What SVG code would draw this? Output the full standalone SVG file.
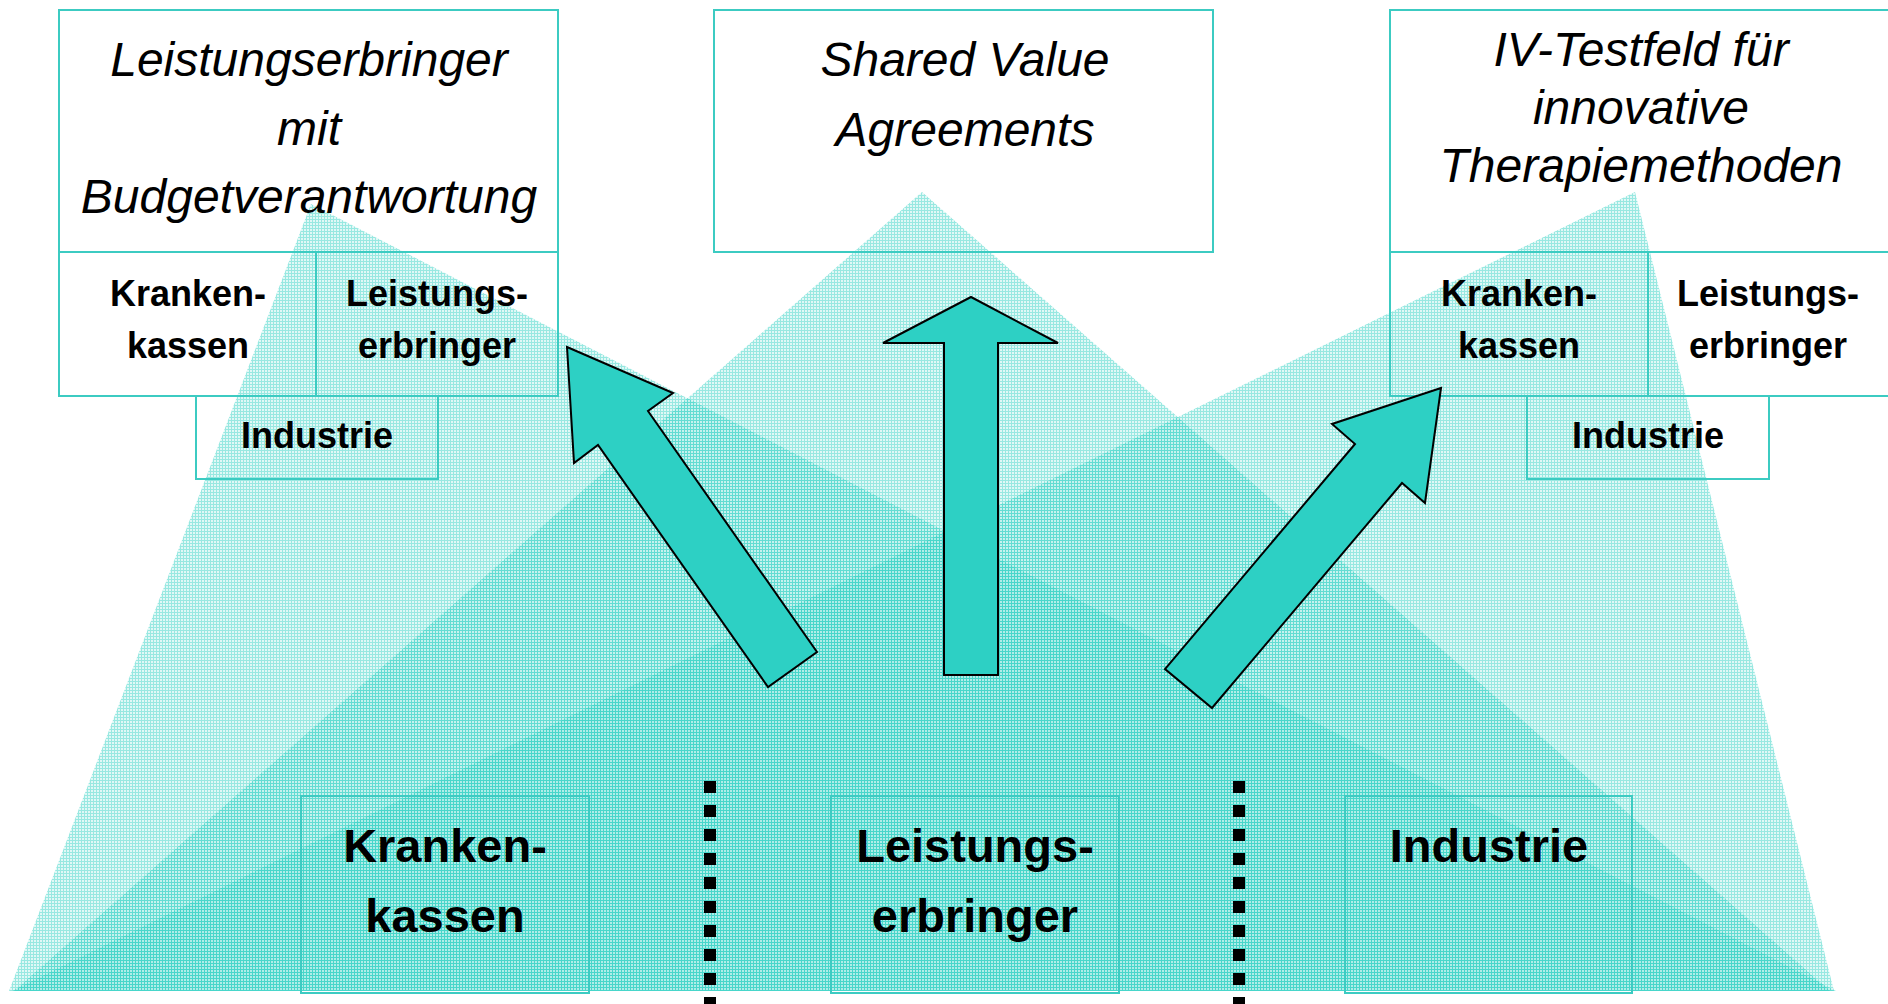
<svg xmlns="http://www.w3.org/2000/svg" width="1888" height="1004" viewBox="0 0 1888 1004">
  <defs>
    <!-- fine teal grid used as the translucent fill of the three pyramids -->
    <pattern id="grid" patternUnits="userSpaceOnUse" width="3" height="3">
      <rect x="0" y="0" width="3" height="3" fill="#2ccfc4" fill-opacity="0.15"/>
      <rect x="0" y="0" width="3" height="1" fill="#2ccfc4" fill-opacity="0.4"/>
      <rect x="0" y="1" width="1" height="2" fill="#2ccfc4" fill-opacity="0.4"/>
    </pattern>
    <style>
      .box { fill: none; stroke: #3ccbc2; stroke-width: 2; }
      .pyr { fill: url(#grid); stroke: none; }
      .arrow { fill: #2dd0c4; stroke: #000; stroke-width: 2; stroke-linejoin: miter; }
      .title { font-family: "Liberation Sans", Arial, sans-serif; font-style: italic; font-size: 48px; fill: #000; text-anchor: middle; }
      .small { font-family: "Liberation Sans", Arial, sans-serif; font-weight: bold; font-size: 36px; fill: #000; text-anchor: middle; }
      .big { font-family: "Liberation Sans", Arial, sans-serif; font-weight: bold; font-size: 47px; fill: #000; text-anchor: middle; }
      .sep { stroke: #000; stroke-width: 12; stroke-dasharray: 12 12; fill: none; }
    </style>
  </defs>

  <rect width="1888" height="1004" fill="#ffffff"/>

  <!-- overlapping pyramids -->
  <g id="pyramids">
    <polygon class="pyr" points="311,204 9,991 1836,991"/>
    <polygon class="pyr" points="922,192 14,991 1830,991"/>
    <polygon class="pyr" points="1635,192 12,991 1834,991"/>
  </g>

  <!-- separators between the three base groups -->
  <g id="separators">
    <line class="sep" x1="710" y1="781" x2="710" y2="1004"/>
    <line class="sep" x1="1239" y1="781" x2="1239" y2="1004"/>
  </g>

  <!-- base: Krankenkassen -->
  <g id="base-krankenkassen">
    <rect class="box" x="301" y="796" width="288" height="197"/>
    <text class="big" x="445" y="862">Kranken-</text>
    <text class="big" x="445" y="932">kassen</text>
  </g>

  <!-- base: Leistungserbringer -->
  <g id="base-leistungserbringer">
    <rect class="box" x="831" y="796" width="288" height="197"/>
    <text class="big" x="975" y="862">Leistungs-</text>
    <text class="big" x="975" y="932">erbringer</text>
  </g>

  <!-- base: Industrie -->
  <g id="base-industrie">
    <rect class="box" x="1345" y="796" width="287" height="197"/>
    <text class="big" x="1489" y="862">Industrie</text>
  </g>

  <!-- model: Leistungserbringer mit Budgetverantwortung -->
  <g id="model-budget">
    <rect class="box" x="59" y="10" width="499" height="242"/>
    <rect class="box" x="59" y="252" width="257" height="144"/>
    <rect class="box" x="316" y="252" width="242" height="144"/>
    <rect class="box" x="196" y="396" width="242" height="83"/>
    <text class="title" x="309" y="76">Leistungserbringer</text>
    <text class="title" x="309" y="145">mit</text>
    <text class="title" x="309" y="213">Budgetverantwortung</text>
    <text class="small" x="188" y="306">Kranken-</text>
    <text class="small" x="188" y="358">kassen</text>
    <text class="small" x="437" y="306">Leistungs-</text>
    <text class="small" x="437" y="358">erbringer</text>
    <text class="small" x="317" y="448">Industrie</text>
  </g>

  <!-- model: Shared Value Agreements -->
  <g id="model-shared-value">
    <rect class="box" x="714" y="10" width="499" height="242"/>
    <text class="title" x="965" y="76">Shared Value</text>
    <text class="title" x="965" y="146">Agreements</text>
  </g>

  <!-- model: IV-Testfeld -->
  <g id="model-iv-testfeld">
    <rect class="box" x="1390" y="10" width="499" height="242"/>
    <rect class="box" x="1390" y="252" width="258" height="144"/>
    <rect class="box" x="1648" y="252" width="241" height="144"/>
    <rect class="box" x="1527" y="396" width="242" height="83"/>
    <text class="title" x="1641" y="66">IV-Testfeld für</text>
    <text class="title" x="1641" y="124">innovative</text>
    <text class="title" x="1641" y="182">Therapiemethoden</text>
    <text class="small" x="1519" y="306">Kranken-</text>
    <text class="small" x="1519" y="358">kassen</text>
    <text class="small" x="1768" y="306">Leistungs-</text>
    <text class="small" x="1768" y="358">erbringer</text>
    <text class="small" x="1648" y="448">Industrie</text>
  </g>

  <!-- block arrows from the base to each model -->
  <g id="connectors">
    <polygon class="arrow" points="567,347 673,393 648,411 817,652 768,687 598,445 574,463"/>
    <polygon class="arrow" points="971,297 1058,343 998,343 998,675 944,675 944,343 883,343"/>
    <polygon class="arrow" points="1441,388 1425,503 1402,483 1212,708 1165,669 1355,444 1332,424"/>
  </g>
</svg>
